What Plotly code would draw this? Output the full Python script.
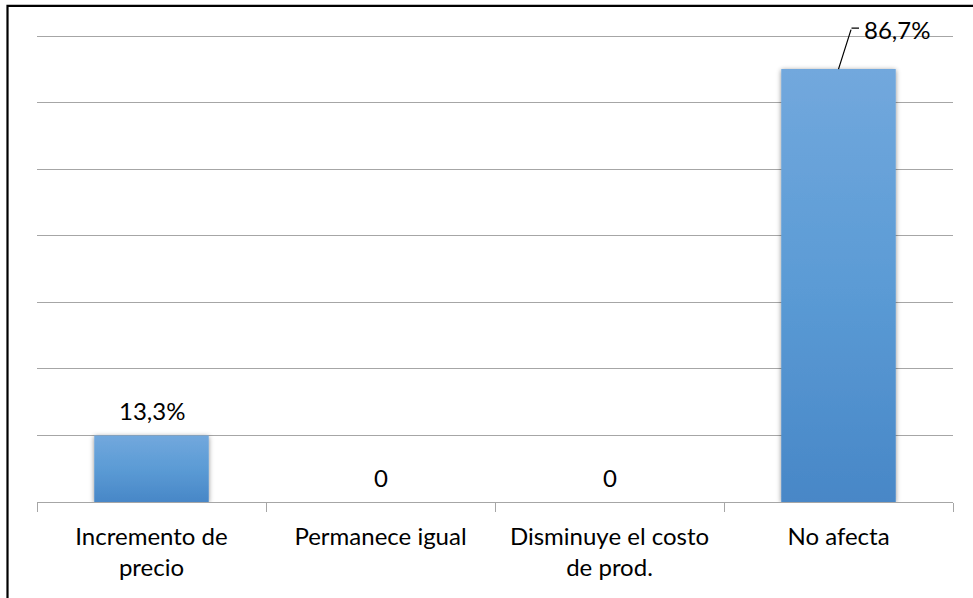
import plotly.graph_objects as go

# Survey answers and their share of respondents (%)
categories = ["Incremento de<br>precio", "Permanece igual", "Disminuye el costo<br>de prod.", "No afecta"]
shares = [13.3, 0, 0, 86.7]

# value axis: hidden labels, gridlines every 40/3 points up to 280/3
y_step = 40 / 3
y_max = 7 * y_step + 0.4

FONT = "Lato"
BAR_TOP = "#72a8dd"
BAR_MID = "#5b9bd5"
BAR_BOTTOM = "#4887c7"
GRID = "#a6a6a6"


def fmt(v):
    if v == 0:
        return "0"
    return f"{v:.1f}%".replace(".", ",")


fig = go.Figure(
    go.Bar(
        x=categories,
        y=shares,
        width=0.5,
        marker=dict(color=BAR_MID, line=dict(width=0)),
        hoverinfo="skip",
    )
)

annotations = []
for cat, v in zip(categories, shares):
    if v > 80:
        # tall bar: label offset to the upper right with a kinked leader line
        annotations.append(dict(x=cat, y=v, text="", showarrow=True, arrowhead=0,
                                arrowwidth=1.2, arrowcolor="#000000",
                                ax=13, ay=-41, axref="pixel", ayref="pixel"))
        annotations.append(dict(x=cat, y=v, text="", showarrow=True, arrowhead=0,
                                arrowwidth=1.2, arrowcolor="#000000",
                                xshift=13, yshift=41, ax=9, ay=0))
        annotations.append(dict(x=cat, y=v, text=fmt(v), showarrow=False,
                                xanchor="left", yanchor="middle",
                                xshift=23, yshift=40))
    else:
        annotations.append(dict(x=cat, y=v, text=fmt(v), showarrow=False,
                                yanchor="middle", yshift=25))

fig.update_layout(
    width=973,
    height=598,
    margin=dict(l=37, r=20, t=34, b=96),
    paper_bgcolor="white",
    plot_bgcolor="white",
    showlegend=False,
    bargap=0.5,
    font=dict(family=FONT, size=24, color="#000000"),
    annotations=annotations,
    xaxis=dict(
        showline=True, linecolor=GRID, linewidth=1,
        ticks="outside", tickson="boundaries", ticklen=9, tickcolor=GRID, tickwidth=1,
        ticklabelstandoff=13,
        showgrid=False, tickfont=dict(family=FONT, size=24, color="#000000"),
        fixedrange=True,
    ),
    yaxis=dict(
        range=[0, y_max], dtick=y_step, tick0=0,
        showgrid=True, gridcolor=GRID, gridwidth=1,
        showticklabels=False, zeroline=False, showline=False,
        fixedrange=True,
    ),
    shapes=[
        # chart frame (left and top edges inside the view)
        dict(type="rect", xref="paper", yref="paper",
             x0=-0.0322, x1=1.2, y0=-0.5, y1=1.06,
             line=dict(color="#000000", width=2.2), layer="above"),
    ],
)

post_script = """
var gd = document.getElementById('{plot_id}');
function paintBars() {
  var ns = 'http://www.w3.org/2000/svg';
  var svg = gd.querySelector('svg.main-svg');
  var defs = svg.querySelector('defs');
  if (!document.getElementById('barGrad')) {
    var lg = document.createElementNS(ns, 'linearGradient');
    lg.setAttribute('id', 'barGrad');
    lg.setAttribute('x1', '0'); lg.setAttribute('y1', '0');
    lg.setAttribute('x2', '0'); lg.setAttribute('y2', '1');
    [['0', '%TOP%'], ['0.5', '%MID%'], ['1', '%BOT%']].forEach(function (s) {
      var st = document.createElementNS(ns, 'stop');
      st.setAttribute('offset', s[0]);
      st.setAttribute('stop-color', s[1]);
      lg.appendChild(st);
    });
    defs.appendChild(lg);
    var f = document.createElementNS(ns, 'filter');
    f.setAttribute('id', 'barShadow');
    f.setAttribute('x', '-20%'); f.setAttribute('y', '-20%');
    f.setAttribute('width', '140%'); f.setAttribute('height', '140%');
    var ds = document.createElementNS(ns, 'feDropShadow');
    ds.setAttribute('dx', '0'); ds.setAttribute('dy', '1');
    ds.setAttribute('stdDeviation', '2.5');
    ds.setAttribute('flood-color', '#000000');
    ds.setAttribute('flood-opacity', '0.45');
    f.appendChild(ds);
    defs.appendChild(f);
  }
  gd.querySelectorAll('.bars .point path').forEach(function (p) {
    p.style.fill = 'url(#barGrad)';
    p.setAttribute('filter', 'url(#barShadow)');
  });
}
paintBars();
gd.on('plotly_afterplot', paintBars);
""".replace("%TOP%", BAR_TOP).replace("%MID%", BAR_MID).replace("%BOT%", BAR_BOTTOM)

fig.write_html("out.html", post_script=post_script, config={"displayModeBar": False})
